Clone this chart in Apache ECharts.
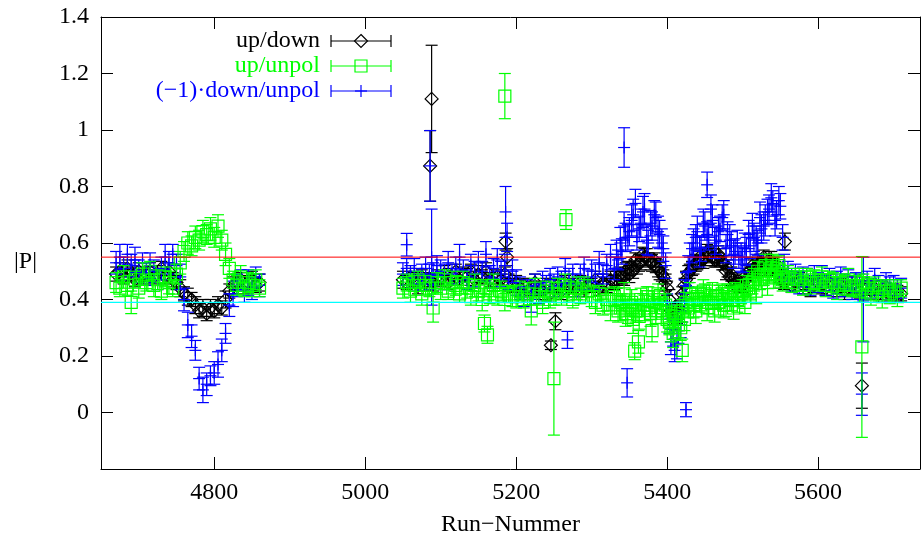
<!DOCTYPE html>
<html><head><meta charset="utf-8">
<script src="https://cdn.jsdelivr.net/npm/echarts@6/dist/echarts.min.js"></script>
<style>html,body{margin:0;padding:0;background:#fff}#c{width:921px;height:542px}</style>
</head><body><div id="c"></div>
<script>
// ---------------- data ----------------
const seriesNames = ['up/down', 'up/unpol', '(\u22121)\u00b7down/unpol'];
const xTitle = 'Run\u2212Nummer';
const yTitle = '|P|';
const xRange = [4650, 5735];
const yRange = [-0.2, 1.4];
const refLines = [0.55, 0.39];

const runs = [
4670,4675,4680,4685,4690,4695,4700,4705,4710,4715,
4720,4725,4730,4735,4740,4745,4750,4755,4760,4765,
4770,4775,4780,4785,4790,4795,4800,4805,4810,4815,
4820,4825,4830,4835,4840,4845,4850,4855,4860,
5050,5055,5060,5065,5070,5075,5080,5085,5090,5095,
5100,5105,5110,5115,5120,5125,5130,5135,5140,5145,
5150,5155,5160,5165,5170,5175,5180,5185,5190,5195,
5200,5205,5210,5215,5220,5225,5230,5235,5240,5245,
5250,5255,5260,5265,5270,5275,5280,5285,5290,5295,
5300,5305,5310,5315,5320,5325,5330,5335,5340,5345,
5350,5355,5360,5365,5370,5375,5380,5385,5390,5395,
5400,5405,5410,5415,5420,5425,5430,5435,5440,5445,
5450,5455,5460,5465,5470,5475,5480,5485,5490,5495,
5500,5505,5510,5515,5520,5525,5530,5535,5540,5545,
5550,5555,5560,5565,5570,5575,5580,5585,5590,5595,
5600,5605,5610,5615,5620,5625,5630,5635,5640,5645,
5650,5655,5660,5665,5670,5675,5680,5685,5690,5695,
5700,5705,5710];

const upDown = [
0.49,0.50,0.48,0.51,0.49,0.47,0.50,0.48,0.49,0.50,
0.48,0.49,0.51,0.48,0.50,0.47,0.46,0.44,0.42,0.41,
0.40,0.38,0.36,0.37,0.35,0.37,0.36,0.38,0.37,0.40,
0.43,0.45,0.46,0.47,0.45,0.46,0.47,0.45,0.46,
0.47,0.46,0.48,0.47,0.45,0.48,0.46,0.47,0.46,0.48,
0.47,0.49,0.46,0.48,0.50,0.47,0.49,0.48,0.50,0.47,
0.49,0.48,0.50,0.47,0.46,0.48,0.47,0.49,0.46,0.45,
0.46,0.44,0.45,0.43,0.44,0.46,0.44,0.43,0.45,0.42,
0.44,0.45,0.43,0.46,0.44,0.45,0.43,0.46,0.44,0.45,
0.45,0.47,0.44,0.46,0.45,0.47,0.46,0.48,0.48,0.50,
0.49,0.50,0.52,0.53,0.55,0.54,0.53,0.52,0.50,0.48,
0.44,0.36,0.33,0.36,0.42,0.47,0.50,0.52,0.53,0.54,
0.55,0.56,0.55,0.54,0.55,0.53,0.51,0.49,0.46,0.45,
0.45,0.47,0.49,0.51,0.52,0.53,0.51,0.54,0.52,0.50,
0.47,0.46,0.47,0.45,0.46,0.47,0.45,0.46,0.44,0.45,
0.46,0.45,0.44,0.46,0.45,0.44,0.45,0.43,0.44,0.45,
0.44,0.43,0.45,0.44,0.43,0.44,0.42,0.44,0.43,0.42,
0.43,0.42,0.42];
const errUpDown = [
0.025,0.03,0.025,0.03,0.025,0.025,0.03,0.025,0.025,0.03,
0.025,0.03,0.025,0.025,0.03,0.025,0.025,0.03,0.025,0.03,
0.025,0.03,0.025,0.03,0.025,0.03,0.025,0.03,0.025,0.03,
0.025,0.03,0.025,0.025,0.03,0.025,0.03,0.025,0.03,
0.03,0.025,0.03,0.025,0.03,0.025,0.03,0.025,0.03,0.025,
0.025,0.03,0.025,0.03,0.025,0.03,0.025,0.03,0.025,0.03,
0.03,0.025,0.03,0.025,0.03,0.025,0.03,0.025,0.03,0.025,
0.025,0.03,0.025,0.03,0.025,0.03,0.025,0.03,0.025,0.03,
0.03,0.025,0.03,0.025,0.03,0.025,0.03,0.025,0.03,0.025,
0.025,0.03,0.025,0.03,0.025,0.03,0.025,0.03,0.025,0.03,
0.03,0.025,0.03,0.025,0.03,0.025,0.03,0.025,0.03,0.025,
0.025,0.03,0.035,0.03,0.025,0.03,0.025,0.03,0.025,0.03,
0.03,0.025,0.03,0.025,0.03,0.025,0.03,0.025,0.03,0.025,
0.025,0.03,0.025,0.03,0.025,0.03,0.025,0.03,0.025,0.03,
0.03,0.025,0.03,0.025,0.03,0.025,0.03,0.025,0.03,0.025,
0.025,0.03,0.025,0.03,0.025,0.03,0.025,0.03,0.025,0.03,
0.03,0.025,0.03,0.025,0.03,0.025,0.03,0.025,0.03,0.025,
0.025,0.03,0.025];

const upUnpol = [
0.46,0.44,0.48,0.45,0.39,0.47,0.44,0.49,0.46,0.50,
0.45,0.47,0.43,0.48,0.46,0.44,0.49,0.53,0.57,0.60,
0.59,0.62,0.61,0.64,0.63,0.65,0.62,0.66,0.61,0.56,
0.51,0.47,0.45,0.48,0.44,0.46,0.45,0.47,0.44,
0.44,0.46,0.43,0.45,0.47,0.42,0.45,0.44,0.37,0.46,
0.44,0.47,0.43,0.46,0.45,0.42,0.46,0.44,0.41,0.45,
0.43,0.40,0.44,0.42,0.45,0.41,0.43,0.40,0.42,0.41,
0.41,0.43,0.40,0.42,0.36,0.44,0.41,0.39,0.43,0.40,
0.42,0.44,0.41,0.45,0.43,0.40,0.44,0.42,0.45,0.43,
0.41,0.39,0.42,0.38,0.40,0.37,0.41,0.36,0.39,0.35,
0.38,0.33,0.36,0.40,0.37,0.41,0.38,0.36,0.40,0.37,
0.33,0.30,0.34,0.31,0.36,0.39,0.42,0.38,0.41,0.40,
0.42,0.39,0.43,0.40,0.41,0.38,0.42,0.40,0.43,0.41,
0.43,0.45,0.42,0.47,0.50,0.48,0.52,0.49,0.53,0.51,
0.49,0.47,0.48,0.46,0.48,0.47,0.45,0.48,0.46,0.47,
0.46,0.48,0.45,0.47,0.46,0.44,0.46,0.45,0.47,0.44,
0.45,0.43,0.46,0.44,0.42,0.45,0.43,0.41,0.44,0.42,
0.43,0.41,0.44];
const errUpUnpol = [
0.035,0.03,0.04,0.035,0.04,0.03,0.035,0.04,0.03,0.035,
0.04,0.035,0.03,0.035,0.04,0.03,0.035,0.04,0.035,0.04,
0.035,0.04,0.035,0.04,0.035,0.04,0.035,0.04,0.035,0.04,
0.035,0.03,0.035,0.04,0.03,0.035,0.04,0.035,0.03,
0.035,0.03,0.04,0.035,0.03,0.04,0.035,0.03,0.05,0.035,
0.04,0.035,0.03,0.04,0.035,0.03,0.04,0.035,0.03,0.04,
0.035,0.04,0.03,0.035,0.04,0.03,0.035,0.04,0.03,0.035,
0.04,0.035,0.03,0.04,0.05,0.035,0.03,0.04,0.035,0.03,
0.04,0.035,0.03,0.04,0.035,0.03,0.04,0.035,0.03,0.04,
0.035,0.04,0.03,0.035,0.04,0.045,0.035,0.04,0.03,0.045,
0.04,0.05,0.035,0.04,0.045,0.035,0.04,0.045,0.035,0.04,
0.045,0.05,0.04,0.045,0.04,0.035,0.04,0.045,0.035,0.04,
0.035,0.04,0.03,0.035,0.04,0.045,0.035,0.04,0.03,0.035,
0.04,0.035,0.03,0.04,0.035,0.03,0.04,0.035,0.03,0.04,
0.035,0.03,0.04,0.035,0.03,0.04,0.035,0.03,0.04,0.035,
0.03,0.035,0.04,0.03,0.035,0.04,0.03,0.035,0.04,0.03,
0.035,0.04,0.03,0.035,0.04,0.03,0.035,0.04,0.03,0.035,
0.04,0.035,0.03];

const downUnpol = [
0.53,0.55,0.51,0.56,0.52,0.54,0.50,0.53,0.49,0.52,
0.50,0.47,0.51,0.55,0.53,0.56,0.52,0.48,0.40,0.31,
0.27,0.22,0.12,0.08,0.10,0.13,0.14,0.17,0.22,0.28,
0.38,0.42,0.45,0.47,0.43,0.46,0.44,0.48,0.45,
0.49,0.51,0.48,0.50,0.47,0.49,0.51,0.48,0.49,0.52,
0.50,0.48,0.53,0.49,0.51,0.55,0.50,0.47,0.52,0.49,
0.53,0.50,0.56,0.48,0.51,0.54,0.49,0.52,0.47,0.50,
0.46,0.44,0.41,0.43,0.40,0.45,0.42,0.46,0.44,0.47,
0.45,0.48,0.46,0.50,0.47,0.49,0.45,0.48,0.51,0.47,
0.50,0.48,0.53,0.49,0.52,0.55,0.51,0.54,0.57,0.62,
0.64,0.70,0.62,0.67,0.72,0.60,0.66,0.69,0.63,0.58,
0.38,0.25,0.22,0.29,0.36,0.45,0.55,0.60,0.64,0.58,
0.66,0.62,0.68,0.61,0.65,0.70,0.63,0.59,0.57,0.55,
0.54,0.57,0.59,0.62,0.60,0.65,0.68,0.72,0.74,0.70,
0.73,0.52,0.50,0.47,0.49,0.46,0.48,0.47,0.45,0.48,
0.46,0.48,0.45,0.47,0.44,0.46,0.48,0.45,0.47,0.44,
0.46,0.45,0.43,0.46,0.44,0.47,0.45,0.43,0.46,0.44,
0.45,0.43,0.44];
const errDownUnpol = [
0.04,0.045,0.04,0.035,0.04,0.045,0.04,0.035,0.04,0.045,
0.04,0.035,0.04,0.045,0.04,0.035,0.04,0.045,0.04,0.045,
0.04,0.035,0.04,0.045,0.04,0.035,0.04,0.045,0.04,0.035,
0.04,0.045,0.04,0.035,0.04,0.045,0.04,0.035,0.04,
0.04,0.035,0.04,0.045,0.04,0.035,0.04,0.045,0.04,0.035,
0.04,0.045,0.04,0.035,0.04,0.045,0.04,0.035,0.04,0.045,
0.04,0.035,0.045,0.04,0.035,0.04,0.045,0.04,0.035,0.04,
0.045,0.04,0.035,0.04,0.045,0.04,0.035,0.04,0.045,0.04,
0.04,0.035,0.04,0.045,0.04,0.035,0.04,0.045,0.04,0.035,
0.04,0.045,0.04,0.035,0.04,0.045,0.04,0.035,0.045,0.05,
0.05,0.055,0.045,0.05,0.055,0.045,0.05,0.055,0.05,0.045,
0.04,0.045,0.04,0.045,0.04,0.045,0.05,0.05,0.055,0.045,
0.05,0.045,0.055,0.05,0.045,0.05,0.045,0.05,0.045,0.04,
0.045,0.05,0.045,0.05,0.045,0.05,0.055,0.05,0.045,0.05,
0.045,0.04,0.035,0.04,0.035,0.04,0.035,0.04,0.035,0.04,
0.035,0.04,0.035,0.04,0.035,0.04,0.035,0.04,0.035,0.04,
0.035,0.04,0.035,0.04,0.035,0.04,0.035,0.04,0.035,0.04,
0.035,0.04,0.035];

// extra runs inside the two humps (5333-5553)
const runs2 = [
5333,5338,5343,5348,5353,5358,5363,5368,5373,5378,
5383,5388,5393,5398,5403,5408,5413,5418,5423,5428,
5433,5438,5443,5448,5453,5458,5463,5468,5473,5478,
5483,5488,5493,5498,5503,5508,5513,5518,5523,5528,
5533,5538,5543,5548,5553];
const upDown2 = [
0.47,0.49,0.48,0.51,0.52,0.54,0.53,0.56,0.55,0.53,
0.54,0.51,0.49,0.46,0.40,0.34,0.35,0.39,0.45,0.49,
0.51,0.53,0.55,0.54,0.57,0.56,0.54,0.56,0.53,0.50,
0.48,0.47,0.44,0.46,0.48,0.50,0.52,0.50,0.53,0.55,
0.52,0.54,0.51,0.49,0.48];
const errUpDown2 = [
0.03,0.025,0.03,0.025,0.03,0.025,0.03,0.025,0.03,0.025,
0.025,0.03,0.025,0.03,0.035,0.03,0.035,0.03,0.025,0.03,
0.025,0.03,0.025,0.03,0.025,0.03,0.025,0.03,0.025,0.03,
0.03,0.025,0.03,0.025,0.03,0.025,0.03,0.025,0.03,0.025,
0.025,0.03,0.025,0.03,0.025];
const upUnpol2 = [
0.40,0.37,0.42,0.35,0.39,0.36,0.34,0.38,0.41,0.35,
0.39,0.42,0.36,0.38,0.32,0.28,0.35,0.30,0.33,0.37,
0.40,0.36,0.39,0.43,0.37,0.40,0.36,0.39,0.42,0.38,
0.41,0.37,0.40,0.42,0.39,0.44,0.46,0.43,0.47,0.49,
0.46,0.50,0.48,0.52,0.47];
const errUpUnpol2 = [
0.04,0.045,0.04,0.035,0.045,0.04,0.045,0.04,0.035,0.045,
0.04,0.035,0.045,0.04,0.045,0.05,0.04,0.045,0.04,0.035,
0.04,0.045,0.035,0.04,0.045,0.035,0.04,0.045,0.035,0.04,
0.035,0.04,0.045,0.035,0.04,0.035,0.04,0.045,0.035,0.04,
0.045,0.035,0.04,0.035,0.04];
const downUnpol2 = [
0.56,0.60,0.66,0.62,0.68,0.74,0.65,0.71,0.61,0.67,
0.70,0.64,0.60,0.52,0.33,0.28,0.24,0.31,0.42,0.50,
0.58,0.62,0.57,0.67,0.63,0.72,0.60,0.64,0.69,0.58,
0.61,0.56,0.60,0.55,0.58,0.63,0.66,0.61,0.69,0.66,
0.71,0.76,0.68,0.75,0.62];
const errDownUnpol2 = [
0.05,0.055,0.05,0.045,0.055,0.05,0.045,0.055,0.05,0.045,
0.05,0.055,0.05,0.045,0.05,0.045,0.05,0.045,0.05,0.055,
0.05,0.045,0.055,0.05,0.045,0.05,0.055,0.05,0.045,0.05,
0.055,0.05,0.045,0.05,0.055,0.05,0.045,0.05,0.055,0.05,
0.045,0.05,0.055,0.05,0.045];

// isolated runs (outliers) per series
const upDownOutRuns = [5086, 5088, 5186, 5188, 5246, 5252, 5556, 5658];
const upDownOutVals = [0.873, 1.11, 0.605, 0.55, 0.238, 0.323, 0.605, 0.095];
const upDownOutErr  = [0.125, 0.19, 0.03, 0.03, 0.015, 0.03, 0.03, 0.08];

const upUnpolOutRuns = [5158, 5162, 5185, 5250, 5266, 5357, 5362, 5380, 5420, 5658];
const upUnpolOutVals = [0.315, 0.275, 1.12, 0.12, 0.683, 0.217, 0.25, 0.29, 0.22, 0.232];
const upUnpolOutErr  = [0.03, 0.03, 0.08, 0.2, 0.035, 0.03, 0.04, 0.04, 0.04, 0.32];

const downUnpolOutRuns = [5055, 5086, 5088, 5186, 5188, 5268, 5343, 5347, 5425, 5453, 5658, 5660];
const downUnpolOutVals = [0.594, 0.873, 0.55, 0.71, 0.62, 0.257, 0.938, 0.105, 0.01, 0.806, 0.065, 0.40];
const downUnpolOutErr  = [0.04, 0.125, 0.17, 0.09, 0.05, 0.03, 0.07, 0.05, 0.025, 0.045, 0.075, 0.15];

// ---------------- chart ----------------
const FONT = '"Liberation Serif","Times New Roman",serif';
const COLORS = ['#000000', '#00ff00', '#0000ff'];
const SYMS = ['diamond', 'square', 'plus'];
const REF_COLORS = ['#ff0000', '#00ffff'];

function build(parts) {
  const d = [];
  parts.forEach(([r, v, e]) => r.forEach((x, i) => d.push([x, v[i], e[i]])));
  return d;
}

function symbolEls(kind, cx, cy, color) {
  const st = {stroke: color, lineWidth: 1.2, fill: 'none'};
  if (kind === 'diamond') {
    return [{type: 'polygon', shape: {points: [[cx, cy - 6.5], [cx + 6.5, cy], [cx, cy + 6.5], [cx - 6.5, cy]]}, style: st}];
  }
  if (kind === 'square') {
    return [{type: 'rect', shape: {x: cx - 6, y: cy - 6, width: 12, height: 12}, style: st}];
  }
  return [
    {type: 'line', shape: {x1: cx - 6, y1: cy, x2: cx + 6, y2: cy}, style: st},
    {type: 'line', shape: {x1: cx, y1: cy - 6, x2: cx, y2: cy + 6}, style: st}
  ];
}

function errSeries(idx, data, z) {
  const color = COLORS[idx], kind = SYMS[idx];
  return {
    type: 'custom', name: seriesNames[idx], data: data, z: z, clip: true, animation: false,
    encode: {x: 0, y: 1},
    renderItem: function (params, api) {
      const x = api.value(0), y = api.value(1), e = api.value(2);
      const c = api.coord([x, y]), t = api.coord([x, y + e]), b = api.coord([x, y - e]);
      const st = {stroke: color, lineWidth: 1.2};
      const ch = [
        {type: 'line', shape: {x1: c[0], y1: t[1], x2: c[0], y2: b[1]}, style: st},
        {type: 'line', shape: {x1: c[0] - 6, y1: t[1], x2: c[0] + 6, y2: t[1]}, style: st},
        {type: 'line', shape: {x1: c[0] - 6, y1: b[1], x2: c[0] + 6, y2: b[1]}, style: st}
      ].concat(symbolEls(kind, c[0], c[1], color));
      return {type: 'group', children: ch};
    }
  };
}

function refSeries(i) {
  return {
    type: 'line', name: 'ref' + i, z: 10, silent: true, animation: false,
    symbol: 'none', showSymbol: false,
    data: [[xRange[0], refLines[i]], [xRange[1], refLines[i]]],
    lineStyle: {color: REF_COLORS[i], width: i === 0 ? 1 : 1.2, type: 'solid'},
    itemStyle: {color: REF_COLORS[i]}
  };
}

const dUpDown = build([[runs, upDown, errUpDown], [runs2, upDown2, errUpDown2],
  [upDownOutRuns, upDownOutVals, upDownOutErr]]);
const dUpUnpol = build([[runs, upUnpol, errUpUnpol], [runs2, upUnpol2, errUpUnpol2],
  [upUnpolOutRuns, upUnpolOutVals, upUnpolOutErr]]);
const dDownUnpol = build([[runs, downUnpol, errDownUnpol], [runs2, downUnpol2, errDownUnpol2],
  [downUnpolOutRuns, downUnpolOutVals, downUnpolOutErr]]);

// legend drawn as graphic (gnuplot style: right-aligned text, error-bar sample)
const legendGraphics = [];
const legendRowY = [41, 66, 91];
seriesNames.forEach((name, i) => {
  const y = legendRowY[i], col = COLORS[i];
  legendGraphics.push({type: 'text', x: 320, y: y, style: {text: name, fill: col, font: '24px ' + FONT,
    textAlign: 'right', textVerticalAlign: 'middle', align: 'right', verticalAlign: 'middle'}});
  const st = {stroke: col, lineWidth: 1.2};
  legendGraphics.push({type: 'line', shape: {x1: 331, y1: y, x2: 391, y2: y}, style: st});
  legendGraphics.push({type: 'line', shape: {x1: 331, y1: y - 6, x2: 331, y2: y + 6}, style: st});
  legendGraphics.push({type: 'line', shape: {x1: 391, y1: y - 6, x2: 391, y2: y + 6}, style: st});
  symbolEls(SYMS[i], 361, y, col).forEach(el => legendGraphics.push(el));
});

const axisCommon = {
  axisLine: {show: true, onZero: false, lineStyle: {color: '#000', width: 1}},
  axisTick: {show: true, inside: true, length: 12, lineStyle: {color: '#000', width: 1}},
  splitLine: {show: false}
};

const chart = echarts.init(document.getElementById('c'), null, {renderer: 'canvas'});
chart.setOption({
  backgroundColor: '#fff',
  animation: false,
  grid: {left: 101, right: 1, top: 17, bottom: 66, containLabel: false},
  xAxis: [
    Object.assign({type: 'value', position: 'bottom', min: xRange[0], max: xRange[1],
      name: xTitle, nameLocation: 'middle', nameGap: 44,
      nameTextStyle: {fontFamily: FONT, fontSize: 24, color: '#000'},
      axisLabel: {show: true, margin: 12, color: '#000', fontFamily: FONT, fontSize: 24,
        showMinLabel: false, showMaxLabel: false,
        formatter: v => (v % 200 === 0 ? String(v) : '')}}, axisCommon),
    Object.assign({type: 'value', position: 'top', min: xRange[0], max: xRange[1],
      axisLabel: {show: false}}, axisCommon)
  ],
  yAxis: [
    Object.assign({type: 'value', position: 'left', min: yRange[0], max: yRange[1], interval: 0.2,
      name: yTitle, nameLocation: 'middle', nameRotate: 0, nameGap: 64,
      nameTextStyle: {fontFamily: FONT, fontSize: 24, color: '#000', verticalAlign: 'top', lineHeight: 38},
      axisLabel: {show: true, margin: 12, color: '#000', fontFamily: FONT, fontSize: 24, showMinLabel: false}}, axisCommon),
    Object.assign({type: 'value', position: 'right', min: yRange[0], max: yRange[1], interval: 0.2,
      axisLabel: {show: false}}, axisCommon)
  ],
  graphic: legendGraphics,
  series: [
    errSeries(0, dUpDown, 2),
    errSeries(2, dDownUnpol, 3),
    errSeries(1, dUpUnpol, 4),
    refSeries(0),
    refSeries(1)
  ]
});
</script></body></html>
